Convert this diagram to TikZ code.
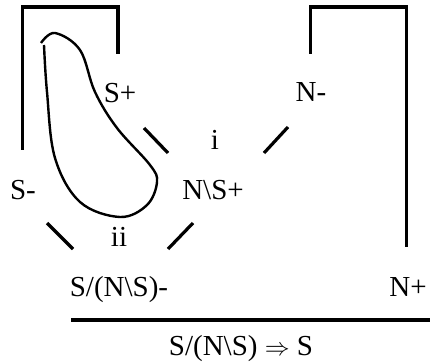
\documentclass[tikz,border=0pt]{standalone}
\usepackage{fontspec}
\setmainfont{Liberation Serif}
\begin{document}
\begin{tikzpicture}[x=1pt,y=-1pt,
  lbl/.style={inner sep=0pt,anchor=base,font=\fontsize{29}{34}\selectfont},
  thick line/.style={line width=3.2pt},
  loop line/.style={line width=2.4pt}]
\useasboundingbox (0,0) rectangle (430,363);
% labels
\node[lbl] (splus) at (120,103) {S+};
\node[lbl] (nminus) at (311,102) {N-};
\node[lbl] (sminus) at (23,200) {S-};
\node[lbl] (nsplus) at (213,199) {N\textbackslash S+};
\node[lbl] (i) at (215,150) {i};
\node[lbl] (ii) at (119,246) {ii};
\node[lbl] (snsminus) at (119,296) {S/(N\textbackslash S)-};
\node[lbl] (nplus) at (408,296) {N+};
\node[lbl] (concl) at (241,355) {S/(N\textbackslash S) {\fontsize{32}{34}\selectfont$\Rightarrow$} S};
% bracket coordinates
\coordinate (a1) at (118,54);
\coordinate (a2) at (22.7,150);
\coordinate (b1) at (310.7,54);
\coordinate (b2) at (406.7,247);
\draw[thick line] (a2) -- (22.7,7) -- (118,7) -- (a1);
\draw[thick line] (b1) -- (310.7,7) -- (406.7,7) -- (b2);
% link segments
\coordinate (d1a) at (144,128); \coordinate (d1b) at (168,153);
\coordinate (d2a) at (288,127); \coordinate (d2b) at (264,153);
\coordinate (d3a) at (47,223);  \coordinate (d3b) at (73,249);
\coordinate (d4a) at (193,223); \coordinate (d4b) at (168,249);
\draw[thick line] (d1a) -- (d1b);
\draw[thick line] (d2a) -- (d2b);
\draw[thick line] (d3a) -- (d3b);
\draw[thick line] (d4a) -- (d4b);
% rule line
\coordinate (r1) at (71,320); \coordinate (r2) at (430,320);
\draw[thick line] (r1) -- (r2);
% loop
\draw[loop line] plot[smooth,tension=0.6] coordinates {(41,43) (55,33) (80,50) (95,92) (117,128) (150,165) (157,182) (147,205) (120,217) (80,202) (55,158) (47,92) (44,45)};
\end{tikzpicture}
\end{document}
